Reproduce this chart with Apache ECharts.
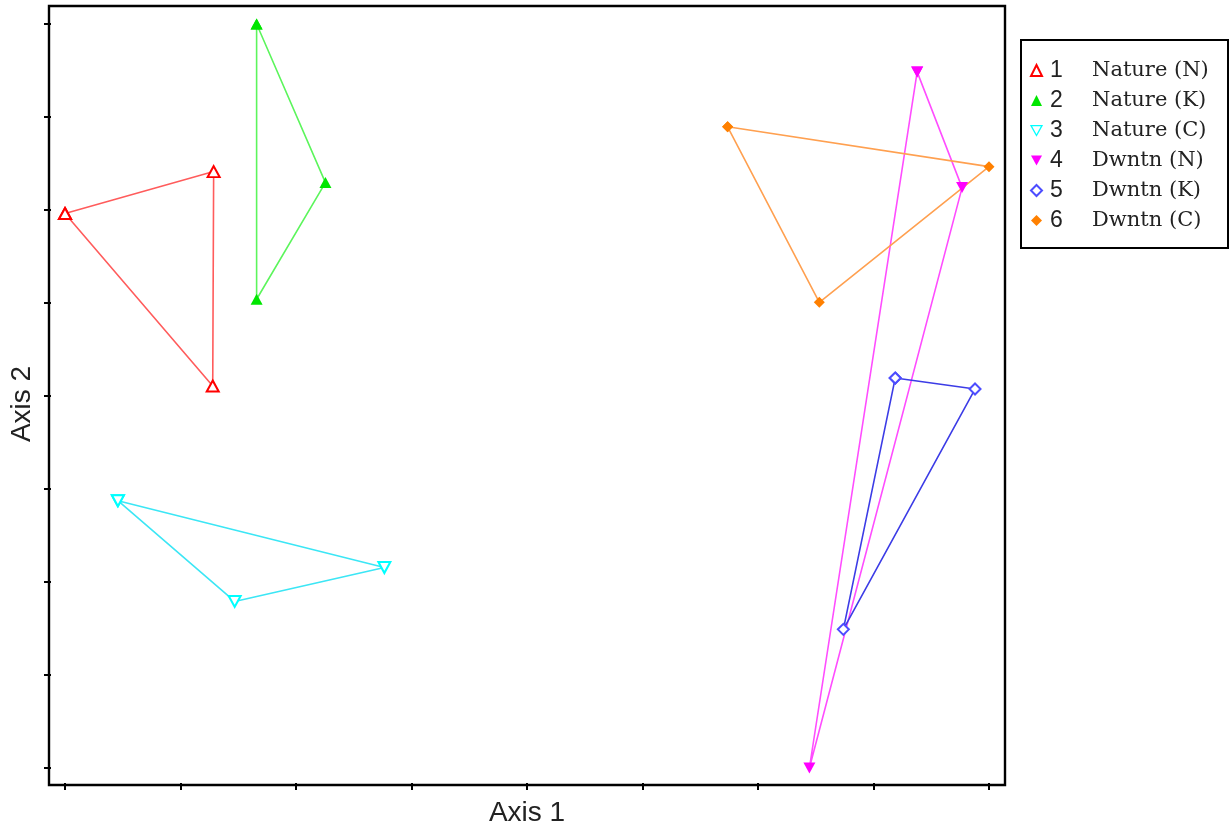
<!DOCTYPE html>
<html><head><meta charset="utf-8">
<script src="https://cdn.jsdelivr.net/npm/echarts@6/dist/echarts.min.js"></script>
<style>html,body{margin:0;padding:0;background:#fff}#c{width:1231px;height:832px}</style>
</head><body><div id="c"></div>
<script>
// ---- data (axis units) ----
const seriesNames   = ['Nature (N)','Nature (K)','Nature (C)','Dwntn (N)','Dwntn (K)','Dwntn (C)'];
const seriesNumbers = ['1','2','3','4','5','6'];
const natureN = [[0.000,5.962],[1.287,6.413],[1.279,4.107]];
const natureK = [[1.659,8.000],[2.255,6.295],[1.659,5.040]];
const natureC = [[0.458,2.874],[2.765,2.156],[1.469,1.791]];
const dwntnN  = [[7.378,7.485],[7.767,6.241],[6.445,0.000]];
const dwntnK  = [[7.188,4.193],[7.879,4.075],[6.739,1.491]];
const dwntnC  = [[5.737,6.895],[8.000,6.466],[6.531,5.008]];
const xTicks = [0,1,2,3,4,5,6,7,8];
const yTicks = [0,1,2,3,4,5,6,7,8];

const allData = [natureN, natureK, natureC, dwntnN, dwntnK, dwntnC];
const symbols = ['emptyTriangle','triangle','emptyTriangle','triangle','emptyDiamond','diamond'];
const rotates = [0,0,180,180,0,0];
const markColors = ['#ff0000','#00e600','#00ffff','#ff00ff','#4d4dff','#ff8000'];
const lineColors = ['#ff5c5c','#5cf55c','#3ce6f5','#ff4dff','#3c3ce6','#ffa050'];
const sizes = [[12,11],[12,11],[12,11],[12,11],[11,11],[11,11]];
const downTri = 'path://M0,0L10,0L5,9Z';
const isEmpty = [true,false,true,false,true,false];

const series = allData.map((d,i)=>({
  name: seriesNames[i],
  type: 'line',
  xAxisIndex: 0, yAxisIndex: 0,
  data: d.concat([d[0]]),
  symbol: symbols[i],
  symbolSize: sizes[i],
  symbolRotate: rotates[i],
  showAllSymbol: true,
  itemStyle: {color: markColors[i], borderWidth: 1.3},
  lineStyle: {color: lineColors[i], width: 1.6},
  emphasis: {disabled: true},
  animation: false,
  z: 3
}));

const legendData = seriesNames.map((n,i)=>{
  if (rotates[i] === 180) {
    return {name:n, icon: downTri,
      itemStyle: isEmpty[i] ? {color:'#fff', borderColor: markColors[i], borderWidth:1.3}
                            : {color: markColors[i], borderWidth:0}};
  }
  return {name:n, icon: symbols[i]};
});

const chart = echarts.init(document.getElementById('c'), null, {renderer:'canvas'});
chart.setOption({
  backgroundColor: '#fff',
  animation: false,
  grid: [
    {left: 63, right: 242, top: 24, bottom: 62, show: false},
    {left: 49, right: 226, top: 6, bottom: 47, show: true, borderColor: '#000', borderWidth: 2.4, backgroundColor: 'transparent', z: 5}
  ],
  xAxis: [
    {type:'value', gridIndex:0, min: xTicks[0], max: xTicks[xTicks.length-1], interval: 1, offset: 15,
     axisLine:{show:false, onZero:false}, axisTick:{show:true, length:7, lineStyle:{color:'#000', width:2}},
     axisLabel:{show:false}, splitLine:{show:false},
     name:'Axis 1', nameLocation:'middle', nameGap: 16,
     nameTextStyle:{fontFamily:'Liberation Sans, Arial, sans-serif', fontSize:28, color:'#222'}},
    {type:'value', gridIndex:1, show:false, min:0, max:1}
  ],
  yAxis: [
    {type:'value', gridIndex:0, min: yTicks[0], max: yTicks[yTicks.length-1], interval: 1, offset: 14,
     axisLine:{show:false, onZero:false}, axisTick:{show:true, length:7, lineStyle:{color:'#000', width:2}},
     axisLabel:{show:false}, splitLine:{show:false},
     name:'Axis 2', nameLocation:'middle', nameGap: 15,
     nameTextStyle:{fontFamily:'Liberation Sans, Arial, sans-serif', fontSize:28, color:'#222', padding:[0,16,0,0]}},
    {type:'value', gridIndex:1, show:false, min:0, max:1}
  ],
  legend: {
    orient:'vertical', left: 1021, top: 40,
    padding:[19,10,16,9], itemGap: 7, itemWidth: 11, itemHeight: 11,
    borderColor:'#000', borderWidth: 2, backgroundColor:'#fff',
    selectedMode: false,
    data: legendData,
    formatter: name => '{n|' + seriesNumbers[seriesNames.indexOf(name)] + '}{t|' + name + '}',
    textStyle: {
      rich: {
        n: {fontFamily:'Liberation Sans, Arial, sans-serif', fontSize:23, color:'#222', width:42, lineHeight:20, padding:[0,0,0,3]},
        t: {fontFamily:'DejaVu Serif, serif', fontSize:21, color:'#222', width:126, lineHeight:20}
      }
    }
  },
  series: series
});
</script>
</body></html>
